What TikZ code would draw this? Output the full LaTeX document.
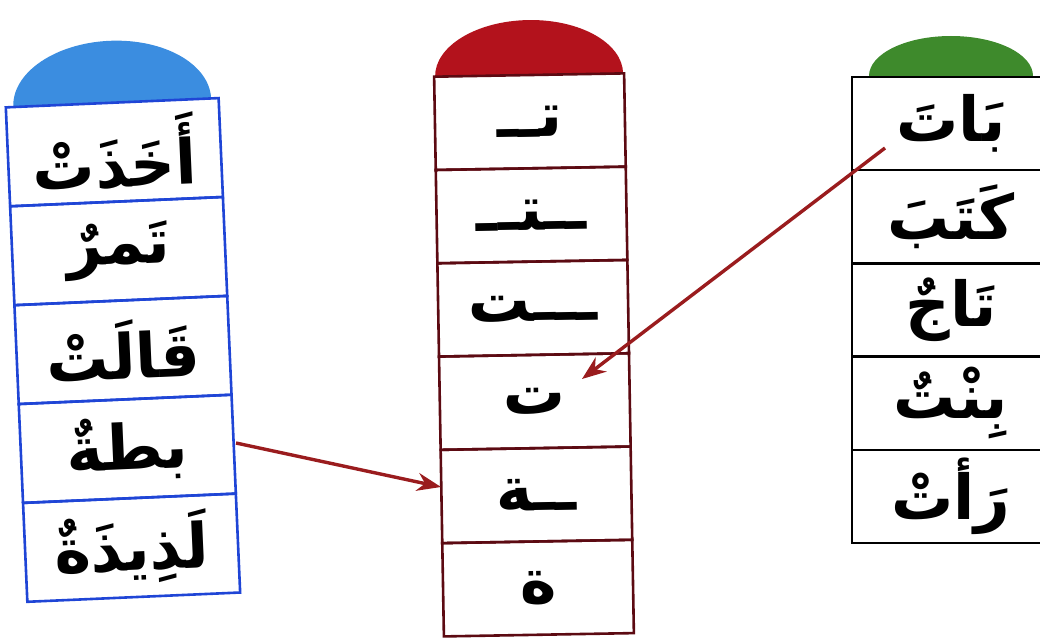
\documentclass[tikz,border=0pt]{standalone}
\usepackage{fontspec}
\usetikzlibrary{positioning,arrows.meta}
\TeXXeTstate=1
\newfontfamily\arabicfont[Script=Arabic]{DejaVu Sans}
\definecolor{capblue}{HTML}{3B8DE0}
\definecolor{lineblue}{HTML}{1F45D6}
\definecolor{capred}{HTML}{B3121C}
\definecolor{linered}{HTML}{5C0A12}
\definecolor{capgreen}{HTML}{3E8A2C}
\definecolor{arrowred}{HTML}{9A1C1E}
\newcommand{\arw}[1]{\arabicfont\bfseries\beginR #1\endR}

\begin{document}
\begin{tikzpicture}[x=1pt,y=-1pt,font=\fontsize{62}{68}\selectfont,node distance=0pt,
  cell/.style={draw,line width=2.6pt,outer sep=0pt,inner sep=0pt,anchor=north},
  lcell/.style={cell,draw=lineblue,minimum width=213pt,minimum height=99pt},
  mcell/.style={cell,draw=linered,minimum width=190pt,minimum height=93.3pt},
  rcell/.style={cell,draw=black,minimum width=198pt,minimum height=93.2pt},
  link/.style={draw=arrowred,line width=3.4pt,-{Stealth[length=24pt,width=18pt]}}]
  \useasboundingbox (0,0) rectangle (1040,639);
  \clip (0,0) rectangle (1040,639);

  % left column (words)
  \begin{scope}[rotate around={2.5:(123,350)},transform shape]
    \fill[capblue] (24,102.5) arc[start angle=180,end angle=360,x radius=99,y radius=62];
    \node[lcell] (l1) at (123,102.5) {\arw{أَخَذَتْ}};
    \node[lcell,below=of l1] (l2) {\arw{تَمرٌ}};
    \node[lcell,below=of l2] (l3) {\arw{قَالَتْ}};
    \node[lcell,below=of l3] (l4) {\arw{بطةٌ}};
    \node[lcell,below=of l4] (l5) {\arw{لَذِيذَةٌ}};
  \end{scope}

  % middle column (letter forms)
  \begin{scope}[rotate around={1:(534,355)},transform shape]
    \fill[capred] (440,75) arc[start angle=180,end angle=360,x radius=94,y radius=55];
    \node[mcell] (m1) at (534,75) {\arw{تــ}};
    \node[mcell,below=of m1] (m2) {\arw{ــتــ}};
    \node[mcell,below=of m2] (m3) {\arw{ـــت}};
    \node[mcell,below=of m3] (m4) {\arw{ت}};
    \node[mcell,below=of m4] (m5) {\arw{ــة}};
    \node[mcell,below=of m5] (m6) {\arw{ة}};
  \end{scope}

  % right column (words)
  \fill[capgreen] (869,76) arc[start angle=180,end angle=360,x radius=82,y radius=40];
  \node[rcell] (r1) at (951,77) {\arw{بَاتَ}};
  \node[rcell,below=of r1] (r2) {\arw{كَتَبَ}};
  \node[rcell,below=of r2] (r3) {\arw{تَاجٌ}};
  \node[rcell,below=of r3] (r4) {\arw{بِنْتٌ}};
  \node[rcell,below=of r4] (r5) {\arw{رَأتْ}};

  % matching arrows
  \coordinate (r1start) at (885,148);
  \coordinate (m4end) at (582,379);
  \coordinate (l4start) at (236,443);
  \coordinate (m5end) at (441,487);
  \draw[link] (r1start) -- (m4end);
  \draw[link] (l4start) -- (m5end);
\end{tikzpicture}
\end{document}
